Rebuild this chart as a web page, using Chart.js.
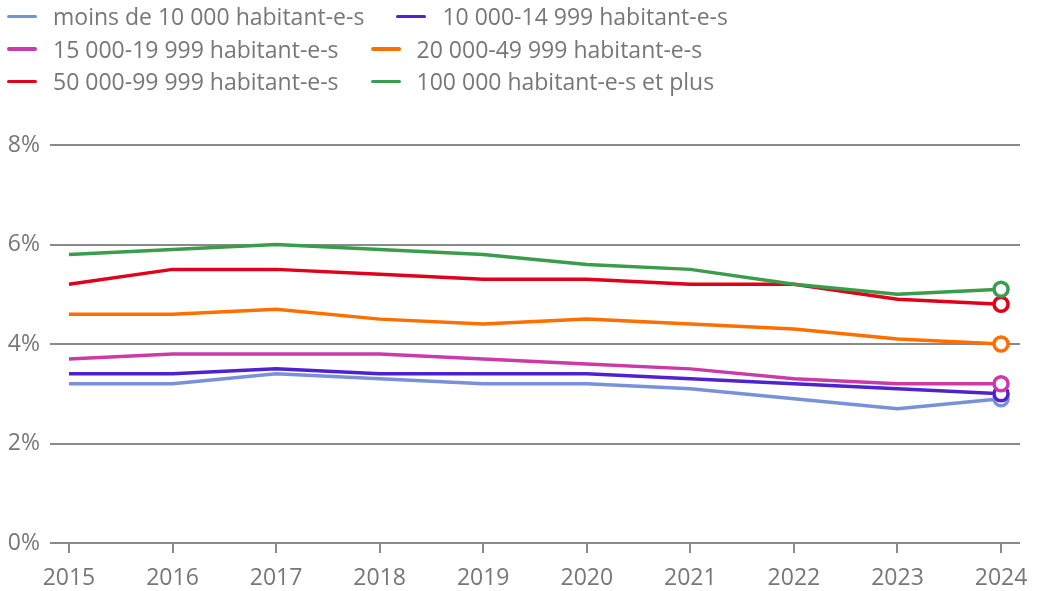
<!DOCTYPE html>
<html lang="fr">
<head>
<meta charset="utf-8">
<script src="https://cdn.jsdelivr.net/npm/chart.js@4.4.1/dist/chart.umd.min.js"></script>
<style>
    body { margin: 0; background: #fff; font-family: 'Open Sans', sans-serif; }
    #wrap { position: relative; width: 1038px; height: 591px; }
    #legend { position: absolute; left: 0; top: 0; width: 800px; display: flex; flex-wrap: wrap; }
    .item { display: flex; align-items: center; height: 32.5px; margin-right: 25px; font-size: 23px; color: #777; white-space: nowrap; }
    .item .line { width: 30px; height: 3.5px; border-radius: 2px; margin-left: 7px; margin-right: 16px; }
</style>
</head>
<body>
<div id="wrap">
    <canvas id="chart" width="1038" height="591"></canvas>
    <div id="legend"></div>
</div>
<script>
// --- DONNÉES ---
const years = [2015, 2016, 2017, 2018, 2019, 2020, 2021, 2022, 2023, 2024];

const seriesNames = [
    'moins de 10 000 habitant-e-s',
    '10 000-14 999 habitant-e-s',
    '15 000-19 999 habitant-e-s',
    '20 000-49 999 habitant-e-s',
    '50 000-99 999 habitant-e-s',
    '100 000 habitant-e-s et plus'
];

const moins10k   = [3.2, 3.2, 3.4, 3.3, 3.2, 3.2, 3.1, 2.9, 2.7, 2.9];
const de10a15k   = [3.4, 3.4, 3.5, 3.4, 3.4, 3.4, 3.3, 3.2, 3.1, 3.0];
const de15a20k   = [3.7, 3.8, 3.8, 3.8, 3.7, 3.6, 3.5, 3.3, 3.2, 3.2];
const de20a50k   = [4.6, 4.6, 4.7, 4.5, 4.4, 4.5, 4.4, 4.3, 4.1, 4.0];
const de50a100k  = [5.2, 5.5, 5.5, 5.4, 5.3, 5.3, 5.2, 5.2, 4.9, 4.8];
const plus100k   = [5.8, 5.9, 6.0, 5.9, 5.8, 5.6, 5.5, 5.2, 5.0, 5.1];

const yTicks = [0, 2, 4, 6, 8];

const colors = ['#7891d8', '#4e22cf', '#cc3aaa', '#ff6f00', '#e1001c', '#3a9d4c'];
const allSeries = [moins10k, de10a15k, de15a20k, de20a50k, de50a100k, plus100k];

// --- LÉGENDE (HTML) ---
const legendEl = document.getElementById('legend');
seriesNames.forEach((name, i) => {
    const item = document.createElement('div');
    item.className = 'item';
    item.innerHTML = `<span class="line" style="background:${colors[i]}"></span>${name}`;
    legendEl.appendChild(item);
});

// --- GRAPHIQUE ---
const lastIndex = years.length - 1;
const datasets = allSeries.map((values, i) => ({
    label: seriesNames[i],
    data: values.map((v, j) => ({ x: years[j], y: v })),
    borderColor: colors[i],
    backgroundColor: '#fff',
    borderWidth: 3.5,
    pointRadius: ctx => ctx.dataIndex === lastIndex ? 7 : 0,
    pointBorderWidth: 3.5,
    pointBackgroundColor: '#fff',
    pointBorderColor: colors[i],
    tension: 0,
    clip: false,
    order: allSeries.length - i
}));

const gridColor = '#8a8a8a';
const tickFont = { family: "'Open Sans', sans-serif", size: 23 };

new Chart(document.getElementById('chart').getContext('2d'), {
    type: 'line',
    data: { datasets: datasets },
    options: {
        responsive: false,
        animation: false,
        layout: { padding: { top: 145, right: 18, left: 0, bottom: 0 } },
        plugins: { legend: { display: false }, tooltip: { enabled: false } },
        scales: {
            x: {
                type: 'linear',
                min: 2014.817,
                max: 2024.183,
                grid: { drawOnChartArea: false, tickLength: 10, color: gridColor, lineWidth: 2 },
                border: { display: false },
                ticks: {
                    stepSize: 1,
                    includeBounds: false,
                    autoSkip: false,
                    maxRotation: 0,
                    padding: 12,
                    color: '#777',
                    font: tickFont,
                    callback: v => String(v)
                },
                afterFit: scale => {
                    scale.height = 48;
                    scale.paddingLeft = 0;
                    scale.paddingRight = 0;
                }
            },
            y: {
                min: 0,
                max: 8,
                afterBuildTicks: scale => { scale.ticks = yTicks.map(v => ({ value: v })); },
                grid: { drawTicks: false, color: gridColor, lineWidth: 2 },
                border: { display: false },
                ticks: {
                    padding: 10,
                    color: '#777',
                    font: tickFont,
                    callback: v => v + '%'
                },
                afterFit: scale => { scale.width = 50; }
            }
        }
    }
});
</script>
</body>
</html>
